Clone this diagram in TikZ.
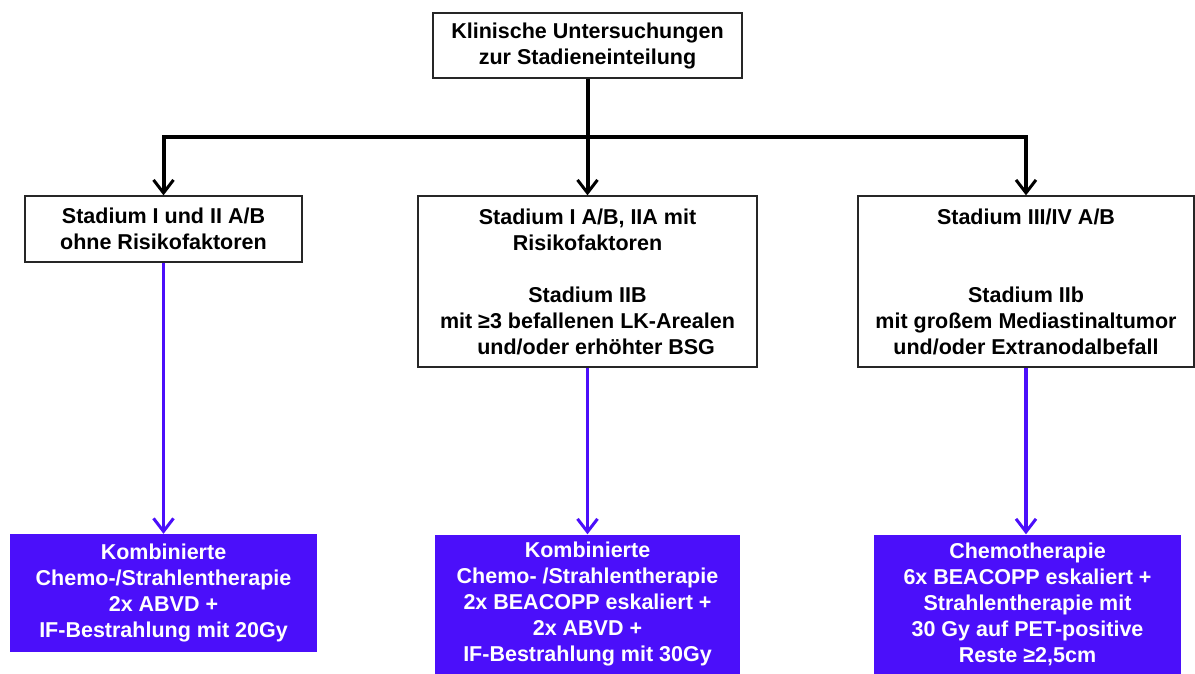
\documentclass[tikz,border=0pt]{standalone}
\usepackage{fontspec}
\setmainfont{Liberation Sans}
\usetikzlibrary{arrows.meta}
\definecolor{violetbox}{RGB}{75,15,250}
\begin{document}
\begin{tikzpicture}[x=1pt,y=-1pt,
  txt/.style={align=center, font=\fontsize{21.5}{26}\selectfont\bfseries, inner sep=0pt},
  box/.style={txt, draw=black!85, line width=1.3pt, fill=white},
  tbox/.style={txt, fill=violetbox, text=white},
  tip/.style={-{Straight Barb[length=13pt,width=20pt,line width=3pt]}},
  blk/.style={tip, line width=4pt, draw=black},
  vio/.style={tip, line width=3.5pt, draw=violetbox}]
\useasboundingbox (0,0) rectangle (1195,673);
\fill[white] (0,0) rectangle (1195,673);

\node[box, minimum width=309pt, minimum height=65pt] (top) at (587.5,45.5)
  {Klinische Untersuchungen\\zur Stadieneinteilung};

\node[box, minimum width=277pt, minimum height=66pt] (s1) at (163.5,229)
  {Stadium I und II A/B\\ohne Risikofaktoren};
\node[box, minimum width=339pt, minimum height=171pt] (s2) at (587.5,281.5)
  {Stadium I A/B, IIA mit\\Risikofaktoren\\ ~ \\Stadium IIB\\mit ≥3 befallenen LK-Arealen\\\hspace{0.8em}und/oder erhöhter BSG};
\node[box, minimum width=336pt, minimum height=171pt] (s3) at (1026,281.5)
  {Stadium III/IV A/B\\ ~ \\ ~ \\Stadium IIb\\mit großem Mediastinaltumor\\und/oder Extranodalbefall};

\node[tbox, minimum width=307pt, minimum height=118pt] (t1) at (163.5,593)
  {Kombinierte\\Chemo-/Strahlentherapie\\2x ABVD +\\IF-Bestrahlung mit 20Gy};
\node[tbox, minimum width=305pt, minimum height=139pt] (t2) at (587.5,604)
  {Kombinierte\\Chemo- /Strahlentherapie\\2x BEACOPP eskaliert +\\2x ABVD +\\IF-Bestrahlung mit 30Gy};
\node[tbox, minimum width=307pt, minimum height=139pt] (t3) at (1027.5,604)
  {Chemotherapie\\6x BEACOPP eskaliert +\\Strahlentherapie mit\\30 Gy auf PET-positive\\Reste ≥2,5cm};

\coordinate (j) at (587.5,137);
\draw[blk] (top.south) -- (s2.north);
\draw[blk] (j) -| (s1.north);
\draw[blk] (j) -| (s3.north);

\draw[vio] (s1.south) -- (t1.north);
\draw[vio] (s2.south) -- (t2.north);
\draw[vio] (s3.south) -- (t3.north -| s3.south);
\end{tikzpicture}
\end{document}
